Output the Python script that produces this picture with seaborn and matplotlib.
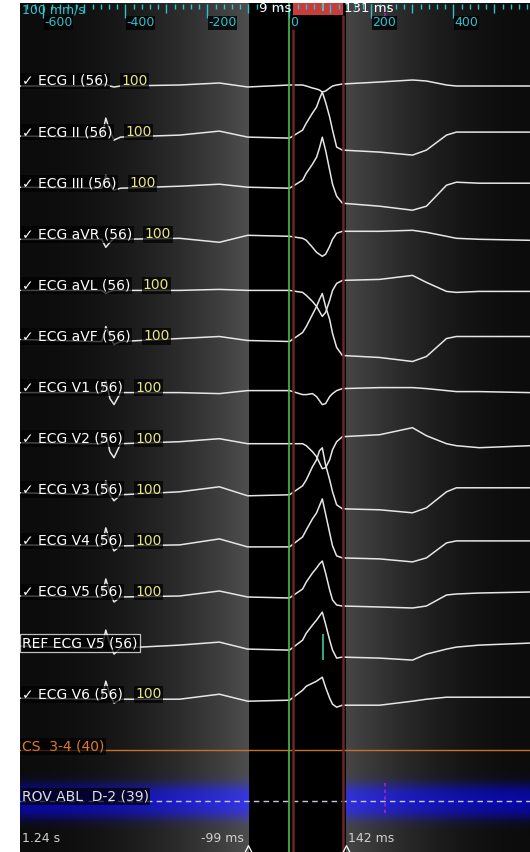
import numpy as np
import pandas as pd
import matplotlib
matplotlib.use("Agg")
import matplotlib.pyplot as plt
from matplotlib.patches import Rectangle
import matplotlib.transforms as mtransforms
import seaborn as sns

# key-point times (ms, 0 = reference), shared by every lead
t_ms = [-657, -470, -458, -448, -438, -428, -412, -268, -171, -102, 0, 32, 41, 56,
        66, 73, 80, 88, 98, 105, 115, 129, 220, 300, 334, 383, 407, 463, 586]

# amplitudes (screen units, positive = up)
ecg_i   = [0, 0, 1, 2, 0, -1, 0, 1, 3, -1, 1, 1, 0, -2, -3, -4, -6, -5, -2, 0, 1, 2, 4, 6, 5, 1, 0, 0, 0]
ecg_ii  = [1, 0, 0, 19, 6, -3, 0, 2, 6, 0, -1, 7, 14, 24, 30, 38, 45, 35, 20, 7, -10, -13, -15, -18, -13, 2, 5, 5, 5]
ecg_iii = [1, 0, 0, 13, 4, -2, 0, 2, 4, 1, 0, 8, 15, 24, 31, 40, 51, 38, 18, 4, -8, -15, -18, -22, -18, 3, 6, 5, 5]
ecg_avr = [0, 0, 0, -8, -3, 1, 0, 1, -3, 4, 3, 1, -1, -8, -13, -15, -17, -15, -7, 0, 6, 8, 8, 9, 7, 3, 1, 0, -1]
ecg_avl = [0, 0, 0, -3, -1, 0, 0, 0, 1, 0, 0, -2, -5, -11, -16, -21, -26, -22, -10, 0, 7, 10, 11, 15, 8, -1, -2, -1, -1]
ecg_avf = [2, 0, 0, 15, 5, -3, 0, 3, 5, 1, 0, 9, 15, 27, 35, 42, 48, 35, 22, 8, -6, -14, -16, -20, -15, 3, 5, 5, 5]
ecg_v1  = [0, 0, 0, 12, -6, -12, 0, 0, -1, 2, 2, -2, -2, -1, -4, -8, -12, -11, -4, -1, 2, 4, 5, 5, 4, 2, 1, 1, 0]
ecg_v2  = [1, 0, 0, 10, -8, -14, 0, 2, 5, 0, 0, 0, -2, -8, -13, -19, -25, -24, -16, -6, 2, 7, 9, 16, 8, 0, -2, -4, -2]
ecg_v3  = [2, 0, 0, 14, 0, -6, 0, 3, 8, -1, 0, 9, 15, 28, 35, 44, 47, 30, 15, 3, -10, -14, -15, -18, -13, 3, 7, 7, 7]
ecg_v4  = [1, 0, 0, 18, 4, -5, 0, 1, 7, -1, -1, 9, 16, 27, 33, 40, 47, 32, 13, 0, -10, -12, -13, -16, -12, 3, 5, 5, 5]
ecg_v5  = [1, 0, 0, 18, 4, -5, 0, 1, 6, 0, -1, 8, 15, 24, 29, 33, 36, 24, 7, -3, -8, -9, -10, -11, -9, 2, 3, 4, 5]
ref_v5  = [2, 0, 0, 18, 4, -6, 0, 3, 6, -1, -2, 8, 15, 23, 28, 32, 36, 24, 8, -2, -10, -9, -10, -12, -6, -1, 1, 3, 5]
ecg_v6  = [1, 0, 0, 18, 5, -4, 0, 0, 5, -2, -1, 9, 13, 16, 18, 20, 22, 12, 1, -5, -8, -6, -6, -2, 0, 2, 2, 2, 2]

lead_names = ["ECG I", "ECG II", "ECG III", "ECG aVR", "ECG aVL", "ECG aVF", "ECG V1",
              "ECG V2", "ECG V3", "ECG V4", "ECG V5", "REF ECG V5", "ECG V6"]
lead_values = [ecg_i, ecg_ii, ecg_iii, ecg_avr, ecg_avl, ecg_avf, ecg_v1,
               ecg_v2, ecg_v3, ecg_v4, ecg_v5, ref_v5, ecg_v6]
lead_beats = 56
lead_gain = 100

# time markers
window_ms = (-100, 139)
window_text = ("-99 ms", "142 ms")
cursor_ms = (9, 131)
green_ms = 0
activation_ms = 82
rov_mark_ms = 233
cycle_text = "1.24 s"

# ---- layout -------------------------------------------------------------
T0, T1 = -657.3, 586.6
Y_TOP, Y_BOT = 3, 852
ROW0, ROW_STEP = 86, 51.1
TRACE_C = "#e6e6e6"
CYAN = "#2cc3cf"
LAB_FS = 10

sns.set_style("white")
plt.rcParams["font.family"] = ["DejaVu Sans"]

fig = plt.figure(figsize=(5.3, 8.52), dpi=100)
fig.patch.set_facecolor("white")
ax = fig.add_axes([20 / 530, 0, 510 / 530, 849 / 852])

# background: grey fades either side of the black window + blue glow on ROV row
cols = np.linspace(T0, T1, 510)
rows = np.arange(Y_TOP, Y_BOT) + 0.5
gray = np.full(cols.shape, 12.0)
lm = cols < window_ms[0]
gray[lm] = 12 + 66 * ((cols[lm] - T0) / (window_ms[0] - T0)) ** 2.0
rm = cols > window_ms[1]
fr = np.clip((cols[rm] - window_ms[1]) / 450, 0, 1)
gray[rm] = 12 + 58 * (1 - fr) ** 1.8
rov_y = ROW0 + ROW_STEP * 14
blue = 150 * np.exp(-np.abs((rows - rov_y) / 18) ** 3)
img = np.zeros((len(rows), len(cols), 3))
img[..., 0] = gray[None, :] * (1 - 0.3 * blue[:, None] / 150)
img[..., 1] = gray[None, :] * (1 - 0.3 * blue[:, None] / 150)
img[..., 2] = gray[None, :] + blue[:, None]
inwin = (cols >= window_ms[0]) & (cols <= window_ms[1])
img[:, inwin, :] = 0
img = np.clip(img, 0, 255) / 255
ax.imshow(img, extent=[T0, T1, Y_BOT, Y_TOP], aspect="auto",
          interpolation="bilinear", zorder=0)

# ECG traces
frames = []
for k, (name, vals) in enumerate(zip(lead_names, lead_values)):
    base = ROW0 + ROW_STEP * k
    frames.append(pd.DataFrame({"t": t_ms, "y": [base - v for v in vals], "lead": name}))
df = pd.concat(frames, ignore_index=True)
sns.lineplot(data=df, x="t", y="y", units="lead", estimator=None, sort=False,
             color=TRACE_C, lw=1.1, ax=ax, legend=False, zorder=3,
             solid_joinstyle="round")
ax.set_xlim(T0, T1)
ax.set_ylim(Y_BOT, Y_TOP)
ax.axis("off")

# CS and ROV rows
cs_y = ROW0 + ROW_STEP * 13
ax.axhline(cs_y, color="#c8702a", lw=1.0, zorder=3)
ax.axhline(rov_y, color="#c8c8dc", lw=1.0, ls=(0, (4, 3)), zorder=3)
ax.vlines(rov_mark_ms, rov_y - 18, rov_y + 14, color="#b020c8", lw=1.2,
          ls=(0, (2, 2)), zorder=4)

# cursors
ax.axvline(green_ms, color="#46c046", lw=1.2, zorder=4)
ax.vlines(cursor_ms, 15, Y_BOT, color="#6e2525", lw=1.8, zorder=4)
ax.add_patch(Rectangle((cursor_ms[0], Y_TOP), cursor_ms[1] - cursor_ms[0], 12,
                       fc="#c83c3c", ec="none", zorder=5))
ax.vlines(activation_ms, Y_TOP, 11, color="#60d880", lw=1.2, zorder=6)
ref_y = ROW0 + ROW_STEP * 11
ax.vlines(activation_ms, ref_y - 14, ref_y + 12, color="#3cc8a0", lw=1.2, zorder=4)

# top ruler
for t in range(-640, 586, 20):
    n = 14 if t % 200 == 0 else (9 if t % 100 == 0 else 5)
    ax.vlines(t, Y_TOP + 1, Y_TOP + 1 + n, color=CYAN, lw=1.0, zorder=6)
for t in range(-600, 586, 200):
    ax.text(t + 2, 23, f"{t}", color=CYAN, fontsize=9, ha="left", va="center",
            zorder=7, bbox=dict(boxstyle="square,pad=0.05", fc="black", ec="none", alpha=0.8))
ax.vlines(rov_mark_ms, 13, 20, color="#b020c8", lw=1.2, zorder=6)
trans = mtransforms.blended_transform_factory(ax.transAxes, ax.transData)
ax.text(0.004, 10, "100 mm/s", transform=trans, color=CYAN, fontsize=9,
        ha="left", va="center", zorder=7)
ax.text(cursor_ms[0] - 5, 9, f"{cursor_ms[0]} ms", color="white", fontsize=9.5,
        ha="right", va="center", zorder=7)
ax.text(cursor_ms[1] + 3, 9, f"{cursor_ms[1]} ms", color="white", fontsize=9.5,
        ha="left", va="center", zorder=7)

# lead labels
box = dict(boxstyle="square,pad=0.1", fc="black", ec="none", alpha=0.7)
for k, name in enumerate(lead_names):
    base = ROW0 + ROW_STEP * k
    if name.startswith("REF"):
        ax.text(0.004, base - 5, f"{name} ({lead_beats})", transform=trans,
                color="white", fontsize=LAB_FS, ha="left", va="center", zorder=8,
                bbox=dict(boxstyle="square,pad=0.15", fc="black", ec="white", lw=0.9, alpha=0.75))
        continue
    lab = ax.text(0.004, base - 5, f"\u2713 {name} ({lead_beats})", transform=trans,
                  color="white", fontsize=LAB_FS, ha="left", va="center", zorder=8, bbox=box)
    ax.annotate(f"{lead_gain}", xy=(1, 0.5), xycoords=lab, xytext=(9, 0),
                textcoords="offset points", color="#e6e682", fontsize=LAB_FS,
                ha="left", va="center", zorder=8, bbox=box)

ax.text(0.004, cs_y - 4, "CS  3-4 (40)", transform=trans, color="#e07828",
        fontsize=LAB_FS, ha="left", va="center", zorder=8, bbox=box)
ax.text(0.004, rov_y - 5, "ROV ABL  D-2 (39)", transform=trans, color="#e0e0e0",
        fontsize=LAB_FS, ha="left", va="center", zorder=8, bbox=box)

# bottom readouts
ax.text(0.004, 839, cycle_text, transform=trans, color="#d0d0d0", fontsize=9,
        ha="left", va="center", zorder=8)
ax.text(window_ms[0] - 12, 839, window_text[0], color="#d0d0d0", fontsize=9,
        ha="right", va="center", zorder=8)
ax.text(window_ms[1] + 3, 839, window_text[1], color="#d0d0d0", fontsize=9,
        ha="left", va="center", zorder=8)
ax.scatter(window_ms, [850, 850], marker="^", s=40, facecolor="none",
           edgecolor="white", lw=0.9, zorder=8, clip_on=False)

fig.savefig("out.png", dpi=100, facecolor="white")
